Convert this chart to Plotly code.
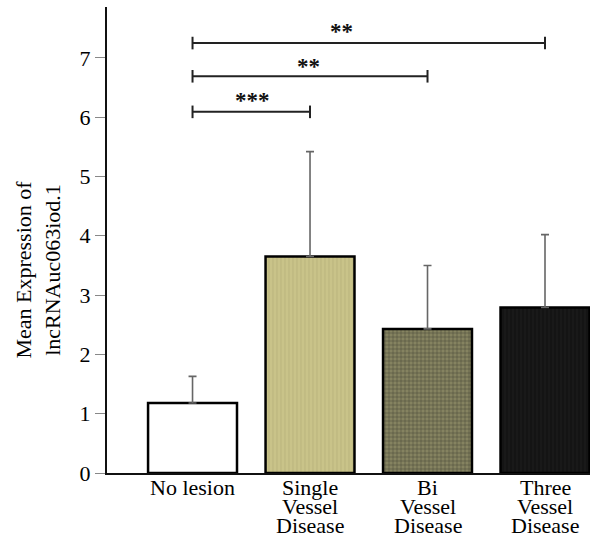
import plotly.graph_objects as go

# ---- data ----
categories = ["No lesion", "Single<br>Vessel<br>Disease", "Bi<br>Vessel<br>Disease", "Three<br>Vessel<br>Disease"]
means = [1.18, 3.65, 2.43, 2.79]
upper_err = [0.45, 1.77, 1.07, 1.23]
y_ticks = [0, 1, 2, 3, 4, 5, 6, 7]
y_title = "Mean Expression of<br>lncRNAuc063iod.1"

# significance comparisons: (from group, to group, bracket height, label)
sig_from = [0, 0, 0]
sig_to = [1, 2, 3]
sig_height = [6.09, 6.69, 7.25]
sig_label = ["***", "**", "**"]

# ---- styles ----
bar_fill = ["#ffffff", "#c9c389", "#858360", "#141414"]
pat_shape = ["", "|", "+", "|"]
pat_fg = ["#ffffff", "#b0aa74", "#34342a", "#222222"]
pat_op = [1.0, 0.5, 0.6, 0.5]
font_family = "Liberation Serif, Times New Roman, serif"

xpos = list(range(len(categories)))

fig = go.Figure()
for i in xpos:
    fig.add_trace(go.Bar(
        x=[xpos[i]], y=[means[i]], width=0.757,
        marker=dict(color=bar_fill[i],
                    line=dict(color="#000000", width=2.5),
                    pattern=dict(shape=pat_shape[i], fgcolor=pat_fg[i], fgopacity=pat_op[i],
                                 size=4, solidity=0.3, fillmode="overlay")),
        error_y=dict(type="data", symmetric=False, array=[upper_err[i]],
                     arrayminus=[0], color="#666666", thickness=1.6, width=4),
        showlegend=False,
    ))

# significance brackets
for a, b, h in zip(sig_from, sig_to, sig_height):
    fig.add_trace(go.Scatter(
        x=[a, b], y=[h, h], mode="lines+markers",
        line=dict(color="#222222", width=2),
        marker=dict(symbol="line-ns", size=9, line=dict(color="#222222", width=2)),
        showlegend=False, hoverinfo="skip", cliponaxis=False,
    ))

star_x = [0.51, 0.99, 1.27]
star_dy = [0.19, 0.17, 0.20]
for sx, h, dy, lab in zip(star_x, sig_height, star_dy, sig_label):
    fig.add_annotation(x=sx, y=h + dy, text="<b>" + lab + "</b>", showarrow=False,
                       xanchor="center", yanchor="middle",
                       font=dict(family=font_family, size=23, color="#111111"))

# x category labels, one annotation per line
line_shift = [-14, -33, -52]
for i, cat in enumerate(categories):
    for j, part in enumerate(cat.split("<br>")):
        fig.add_annotation(x=xpos[i], y=0, xref="x", yref="paper", text=part,
                           showarrow=False, xanchor="center", yanchor="middle",
                           yshift=line_shift[j],
                           font=dict(family=font_family, size=22, color="#000000"))

# y axis title
fig.add_annotation(x=0, y=0.4365, xref="paper", yref="paper", text=y_title,
                   showarrow=False, textangle=-90, xanchor="center", yanchor="middle",
                   xshift=-69, font=dict(family=font_family, size=22, color="#000000"))

fig.update_layout(
    width=590, height=533,
    margin=dict(l=107, r=0, t=7, b=60),
    paper_bgcolor="#ffffff", plot_bgcolor="#ffffff",
    font=dict(family=font_family, size=22, color="#000000"),
    barmode="overlay",
)
fig.update_xaxes(range=[-0.728, 3.383], showline=True, linecolor="#111111", linewidth=2,
                 showticklabels=False, ticks="", showgrid=False, zeroline=False)
fig.update_yaxes(range=[0, 7.858], tickvals=y_ticks, showline=True, linecolor="#111111",
                 linewidth=2, ticks="outside", ticklen=10, tickcolor="#888888", tickwidth=1,
                 showgrid=False, zeroline=False,
                 tickfont=dict(family=font_family, size=22, color="#000000"))

fig.write_html("out.html", config={"displayModeBar": False},
               post_script="document.body.style.margin='0';")
